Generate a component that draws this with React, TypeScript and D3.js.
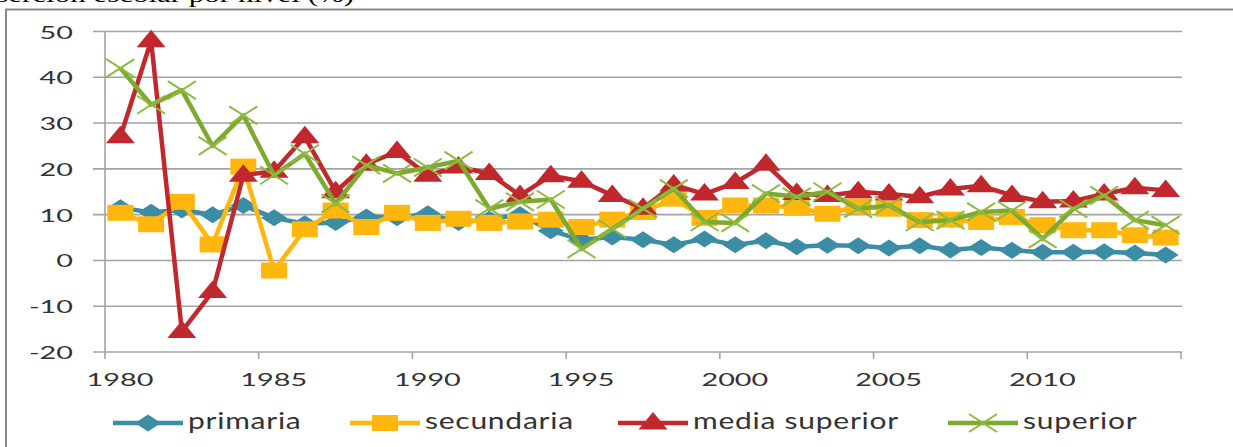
import * as d3 from "d3";

const years = d3.range(1980, 2015);

const primaria = [11.5, 10.5, 11, 10, 12, 9.3, 8, 8.3, 9.5, 9.3, 10.2, 8.3, 9, 10, 6.5, 4.5, 5.1, 4.5, 3.4, 4.7, 3.4, 4.3, 3, 3.3, 3.2, 2.7, 3.2, 2.3, 2.8, 2.2, 1.8, 1.8, 1.9, 1.6, 1.2];
const secundaria = [10.4, 7.9, 12.8, 3.5, 20.5, -2.2, 6.8, 10.9, 7.3, 10.4, 8.2, 9.1, 8.2, 8.5, 8.9, 7.3, 8.9, 10.6, 13.5, 9.3, 12, 12, 11.5, 10.2, 11.8, 11.3, 8.8, 8.9, 8.4, 9.5, 7.7, 6.6, 6.6, 5.5, 5];
const mediaSuperior = [27, 48, -15.5, -6.8, 18.6, 19.5, 27, 15, 21, 23.8, 18.6, 20.4, 19, 14.2, 18.5, 17.3, 14.2, 11.4, 16.5, 14.5, 17, 21, 14.6, 14.2, 15, 14.5, 13.9, 15.6, 16.3, 14.2, 12.8, 13, 14.5, 15.9, 15.3];
const superior = [42, 34, 37.2, 25, 31.7, 18.6, 23.3, 12.4, 20.8, 19, 20.3, 21.8, 11.3, 12.8, 13.3, 2.5, 6.9, 11.3, 15.7, 8.4, 8.2, 14.6, 13.9, 15, 11.3, 12, 8.4, 8.8, 10.6, 10.9, 4.7, 11.3, 14.2, 8.8, 7.7];

const seriesNames = ["primaria", "secundaria", "media superior", "superior"];
const seriesColors = ["#3A8DA5", "#FFB60D", "#C1282D", "#7DAA2E"];
const seriesShapes = ["diamond", "square", "triangle", "cross"];
const yTicks = [-20, -10, 0, 10, 20, 30, 40, 50];
const xTicks = [1980, 1985, 1990, 1995, 2000, 2005, 2010, 2015];
const xLabels = ["1980", "1985", "1990", "1995", "2000", "2005", "2010", ""];
const title = "Deserción escolar por nivel (%)";

const W = 1233;
const H = 447;
const x = d3.scaleLinear().domain([1980, 2015]).range([105, 1181]);
const y = d3.scaleLinear().domain([-20, 50]).range([352, 31.5]);
const font = "Lato, 'Open Sans', sans-serif";
const textColor = "#333";

function Marker({ shape, cx, cy, color }: { shape: string; cx: number; cy: number; color: string }) {
  if (shape === "diamond")
    return <path d={`M${cx},${cy - 8.5}L${cx + 13},${cy}L${cx},${cy + 8.5}L${cx - 13},${cy}Z`} fill={color} />;
  if (shape === "square")
    return <rect x={cx - 13} y={cy - 8} width={26} height={16} fill={color} />;
  if (shape === "triangle")
    return <path d={`M${cx},${cy - 11}L${cx + 14.5},${cy + 6.5}L${cx - 14.5},${cy + 6.5}Z`} fill={color} />;
  return (
    <g stroke="#8FBA3F" strokeWidth={2}>
      <line x1={cx - 14} y1={cy - 9} x2={cx + 14} y2={cy + 9} />
      <line x1={cx - 14} y1={cy + 9} x2={cx + 14} y2={cy - 9} />
    </g>
  );
}

export default function App() {
  const allSeries = [primaria, secundaria, mediaSuperior, superior];
  const line = d3
    .line<number>()
    .x((_, i) => x(years[i] + 0.5))
    .y((d) => y(d));

  const legendX = [113, 350, 618, 948];

  return (
    <div style={{ position: "fixed", left: 0, top: 0 }}>
      <svg width={W} height={H} style={{ display: "block", background: "#fff" }}>
        {/* title, cut off at the top edge as in the source */}
        <text
          transform="translate(-40,2) scale(1.55,1)"
          fontFamily="'Liberation Serif', 'Times New Roman', serif"
          fontSize={20}
          fill="#000"
        >
          {title}
        </text>
        {/* frame */}
        <path d={`M6,${H}V9.5H${W}`} fill="none" stroke="#8a8a8a" strokeWidth={2} />

        {/* grid */}
        {yTicks.map((t) => (
          <g key={t}>
            <line x1={93} x2={1182} y1={y(t)} y2={y(t)} stroke="#a3a3a3" strokeWidth={1.6} />
            <text
              transform={`translate(73,${y(t) + 7}) scale(1.6,1)`}
              textAnchor="end"
              fontFamily={font}
              fontSize={18}
              fill={textColor}
            >
              {t}
            </text>
          </g>
        ))}
        <line x1={105} x2={105} y1={y(50)} y2={y(-20)} stroke="#a3a3a3" strokeWidth={1.6} />
        {xTicks.map((t, i) => (
          <g key={t}>
            <line x1={x(t)} x2={x(t)} y1={y(-20)} y2={y(-20) + 7} stroke="#a3a3a3" strokeWidth={1.6} />
            <text
              transform={`translate(${x(t) + 15},386) scale(1.6,1)`}
              textAnchor="middle"
              fontFamily={font}
              fontSize={18}
              fill={textColor}
            >
              {xLabels[i]}
            </text>
          </g>
        ))}

        {/* series */}
        {allSeries.map((vals, s) => (
          <g key={seriesNames[s]}>
            <path d={line(vals) || ""} fill="none" stroke={seriesColors[s]} strokeWidth={4.5} strokeLinejoin="round" />
            {vals.map((v, i) => (
              <Marker key={i} shape={seriesShapes[s]} cx={x(years[i] + 0.5)} cy={y(v)} color={seriesColors[s]} />
            ))}
          </g>
        ))}

        {/* legend */}
        {seriesNames.map((name, s) => (
          <g key={name}>
            <line x1={legendX[s]} x2={legendX[s] + 70} y1={423} y2={423} stroke={seriesColors[s]} strokeWidth={4.5} />
            <Marker shape={seriesShapes[s]} cx={legendX[s] + 35} cy={423} color={seriesColors[s]} />
            <text
              transform={`translate(${legendX[s] + 75},429) scale(1.25,1)`}
              fontFamily={font}
              fontSize={24}
              letterSpacing={0.6}
              fill={textColor}
            >
              {name}
            </text>
          </g>
        ))}
      </svg>
    </div>
  );
}
